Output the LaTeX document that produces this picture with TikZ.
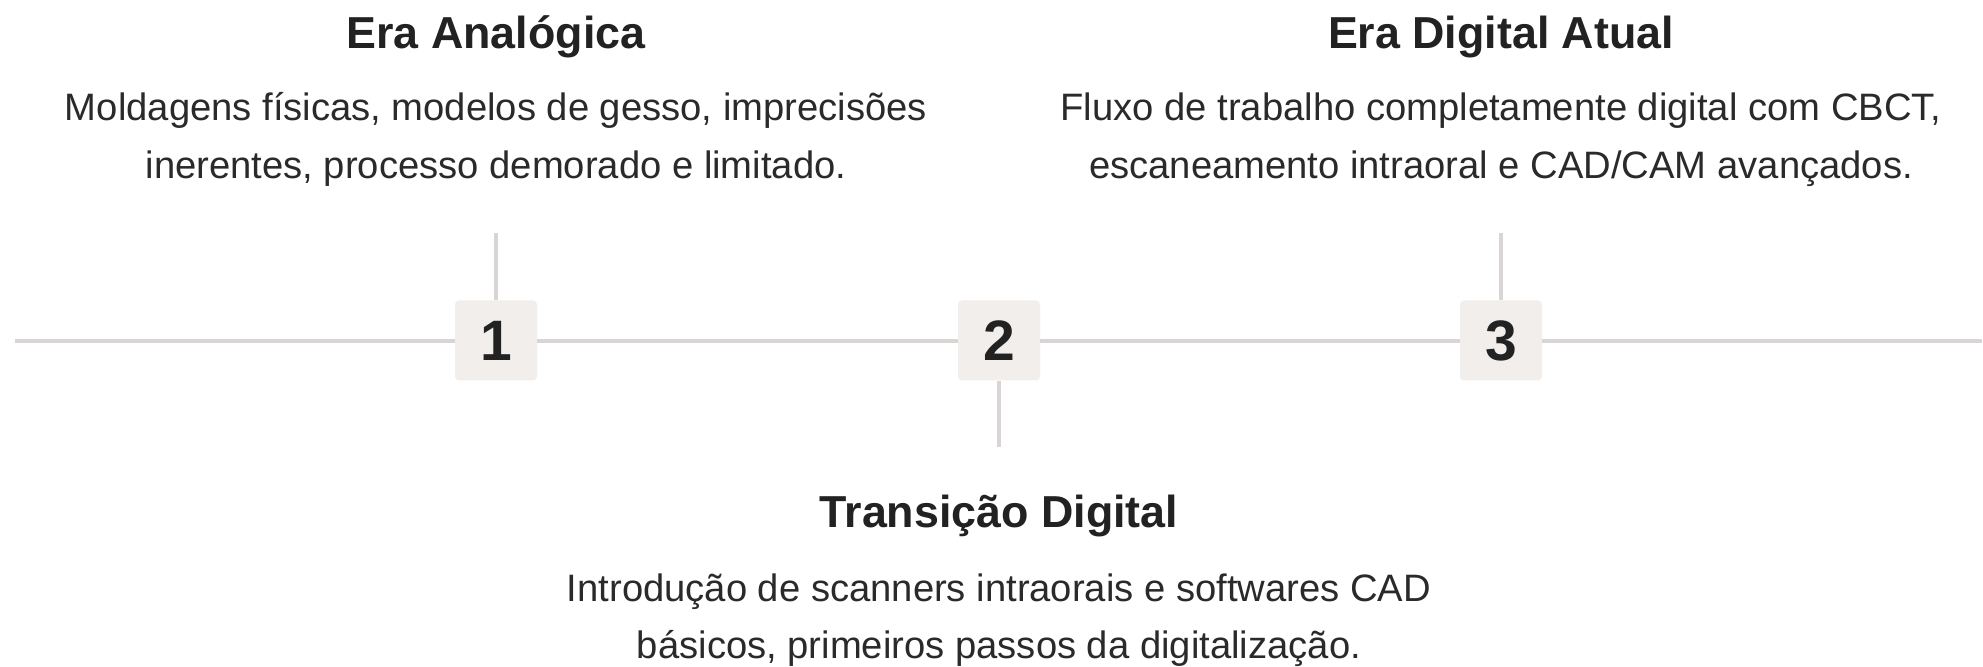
\documentclass[tikz,border=0pt]{standalone}
\usepackage{fontspec}
\setmainfont{Liberation Sans}
\definecolor{ink}{HTML}{222222}
\definecolor{bodyink}{HTML}{2A2A2A}
\definecolor{rail}{HTML}{D9D5D4}
\definecolor{boxfill}{HTML}{F1EEEC}
\begin{document}
\begin{tikzpicture}[x=0.5pt,y=-0.5pt,
  title/.style={anchor=base, inner sep=0, text=ink, font=\fontsize{22.4}{26}\selectfont\bfseries},
  body/.style={anchor=base, inner sep=0, text=bodyink, font=\fontsize{19.1}{23}\selectfont},
  numbox/.style={fill=boxfill, rounded corners=2pt, minimum width=41pt, minimum height=40pt, inner sep=0, text=ink, font=\fontsize{28.5}{30}\selectfont\bfseries},
  railline/.style={draw=rail, line width=2pt, line cap=butt},
  tickline/.style={draw=rail, line width=2pt, line cap=butt}]
\useasboundingbox (0,0) rectangle (1983,667);
\fill[white] (0,0) rectangle (1983,667);

% boxes
\node[numbox] (n1) at (496,340.5) {1};
\node[numbox] (n2) at (999,340.5) {2};
\node[numbox] (n3) at (1501,340.5) {3};

% rail
\coordinate (L) at (15,341.5);
\coordinate (R) at (1982,341.5);
\draw[railline] (L) -- (L -| n1.west);
\draw[railline] (L -| n1.east) -- (L -| n2.west);
\draw[railline] (L -| n2.east) -- (L -| n3.west);
\draw[railline] (L -| n3.east) -- (R);

% ticks
\coordinate (t1) at (496,233);
\coordinate (t2) at (999,447);
\coordinate (t3) at (1501,233);
\draw[tickline] (t1) -- (n1.north);
\draw[tickline] (n2.south) -- (t2);
\draw[tickline] (t3) -- (n3.north);

% texts
\node[title] (h1) at (496,49) {Era Analógica};
\node[body] (d1a) at (496,121) {Moldagens físicas, modelos de gesso, imprecisões};
\node[body] (d1b) at (496,179) {inerentes, processo demorado e limitado.};

\node[title] (h3) at (1501,49) {Era Digital Atual};
\node[body] (d3a) at (1501,121) {Fluxo de trabalho completamente digital com CBCT,};
\node[body] (d3b) at (1501,179) {escaneamento intraoral e CAD/CAM avançados.};

\node[title] (h2) at (999,528) {Transição Digital};
\node[body] (d2a) at (999,602) {Introdução de scanners intraorais e softwares CAD};
\node[body] (d2b) at (999,659) {básicos, primeiros passos da digitalização.};
\end{tikzpicture}
\end{document}
